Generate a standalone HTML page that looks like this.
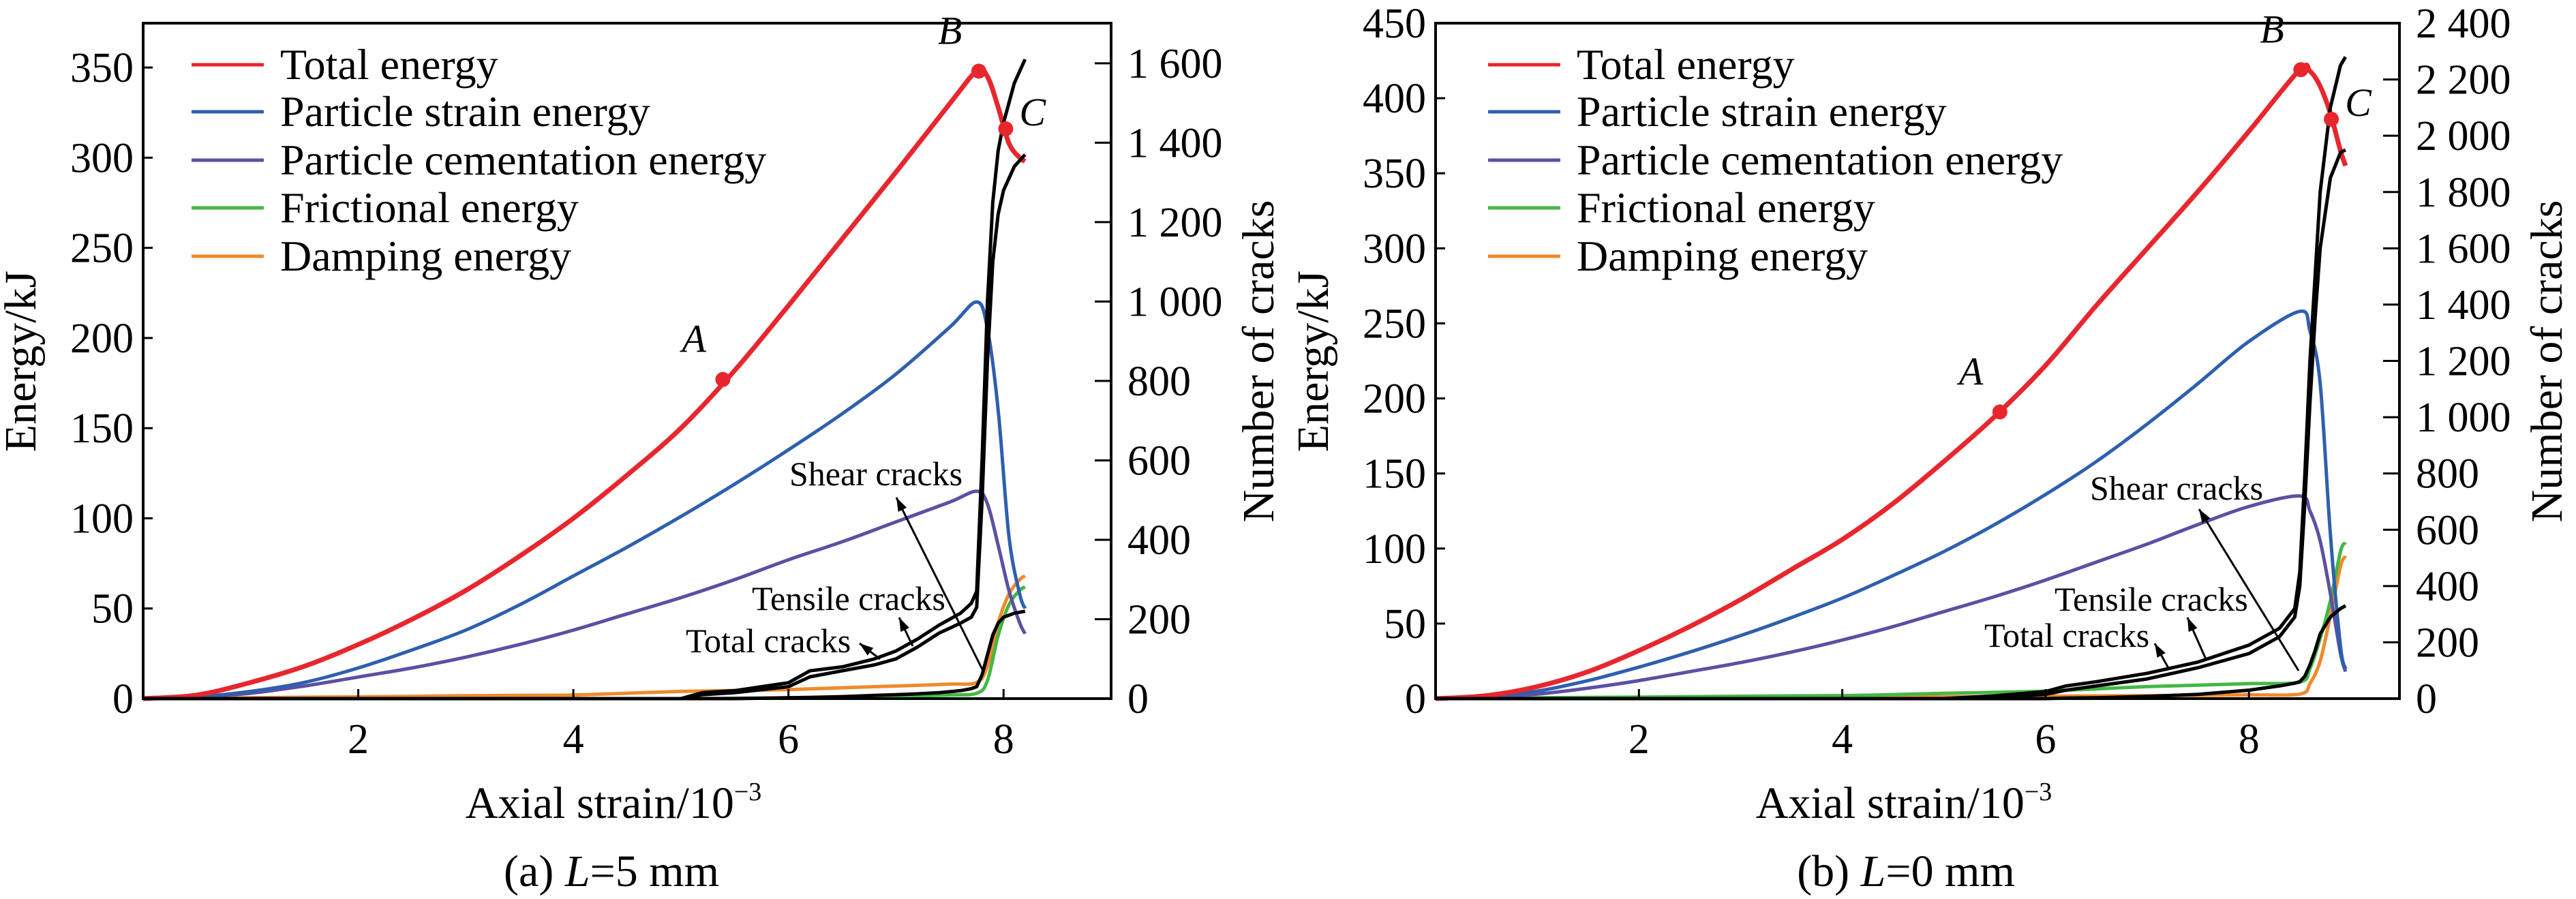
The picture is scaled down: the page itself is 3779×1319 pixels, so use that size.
<!DOCTYPE html>
<html><head><meta charset="utf-8"><style>
html,body{margin:0;padding:0;background:#fff;}
svg{display:block;}
svg text{font-family:"Liberation Serif","Times New Roman","DejaVu Serif",serif;}
</style></head><body>
<svg id="fig" xmlns="http://www.w3.org/2000/svg" width="3779" height="1319" viewBox="0 0 3779 1319"></svg>
<script>
// ---- Panel (a) data ----
const aEnergyX = [0,0.5,1,1.5,2,2.5,3,3.5,4,4.5,5,5.5,6,6.5,7,7.5,7.75,7.85,7.95,8.05,8.15,8.2];
const aTotal   = [0,2,9,18,30,44,60,79,100,124,150,182,218,255,292,330,348,345,328,308,300,298];
const aStrain  = [0,1,4,9,17,27,38,52,68,84,101,119,138,158,180,206,220,205,160,90,58,50];
const aCement  = [0,1,3,7,12,17,23,30,38,47,56,66,77,87,98,109,115,108,85,60,42,36];
const aFric    = [0,0,0,0,0,0,0,0,0,0,0,0.2,0.5,1,1.5,2,3,10,35,52,60,62];
const aDamp    = [0,0.2,0.5,0.8,1,1.3,1.6,1.8,2,3,4,4.5,5,6,7,8,9,18,42,58,66,68];
const aCrackX  = [0,5,5.2,5.5,6,6.2,6.5,6.8,7,7.2,7.4,7.6,7.7,7.75,7.8,7.85,7.9,7.95,8.0,8.1,8.2];
const aCrTotal = [0,0,15,20,40,70,80,100,120,150,185,215,240,270,600,1000,1250,1380,1450,1550,1610];
const aCrTens  = [0,0,10,15,30,55,70,85,100,130,165,190,205,230,500,850,1100,1220,1280,1340,1370];
const aCrShear = [0,0,0,0,2,3,5,8,10,12,15,20,25,30,60,110,160,190,205,215,220];
const aXTicks = [2,4,6,8];
const aYTicks = [0,50,100,150,200,250,300,350];
const aRTicks = [0,200,400,600,800,1000,1200,1400,1600];
const aRLabels = ["0","200","400","600","800","1 000","1 200","1 400","1 600"];
const aPoints = [[5.39,177,"A"],[7.77,348,"B"],[8.02,316,"C"]];
// ---- Panel (b) data ----
const bEnergyX = [0,0.5,1,1.5,2,2.5,3,3.5,4,4.5,5,5.5,6,6.5,7,7.5,8,8.5,8.6,8.7,8.8,8.9,8.95];
const bTotal   = [0,2,8,18,32,48,66,86,106,130,158,188,222,262,300,338,378,419,418,408,390,365,355];
const bStrain  = [0,1,5,12,21,31,42,54,67,82,98,116,136,158,183,210,238,258,245,210,110,35,20];
const bCement  = [0,1,3,7,12,18,24,31,39,48,58,68,79,91,103,116,128,135,125,105,70,30,18];
const bFric    = [0,0.3,0.6,0.8,1,1.3,1.6,1.8,2,2.7,3.5,4.2,5,6.5,8,9,10,11,20,40,65,98,104];
const bDamp    = [0,0,0,0,0,0.2,0.4,0.6,0.8,1,1.2,1.4,1.6,1.8,2,2.2,2.5,3,10,25,55,88,95];
const bCrackX  = [0,5,5.5,6,6.2,6.5,7,7.5,8,8.3,8.45,8.5,8.55,8.6,8.65,8.7,8.8,8.9,8.95];
const bCrTotal = [0,0,10,25,45,60,90,130,190,250,320,450,800,1200,1500,1800,2100,2250,2280];
const bCrTens  = [0,0,5,15,30,45,70,110,160,220,290,400,700,1050,1350,1600,1850,1940,1950];
const bCrShear = [0,0,0,0,2,3,8,15,30,45,55,60,80,120,170,230,290,320,330];
const bXTicks = [2,4,6,8];
const bYTicks = [0,50,100,150,200,250,300,350,400,450];
const bRTicks = [0,200,400,600,800,1000,1200,1400,1600,1800,2000,2200,2400];
const bRLabels = ["0","200","400","600","800","1 000","1 200","1 400","1 600","1 800","2 000","2 200","2 400"];
const bPoints = [[5.55,191,"A"],[8.51,419,"B"],[8.81,386,"C"]];

const NS="http://www.w3.org/2000/svg";
const svg=document.getElementById('fig');
function mk(tag,attrs,parent){const e=document.createElementNS(NS,tag);for(const k in attrs)e.setAttribute(k,attrs[k]);(parent||svg).appendChild(e);return e;}
function txt(s,attrs,parent){const e=mk('text',attrs,parent);e.textContent=s;return e;}

const COLORS={total:"#e8262e",strain:"#2f5fae",cement:"#5b50a3",fric:"#44b844",damp:"#f08a2c"};

function smoothPath(pts){
  let d='M'+pts[0][0].toFixed(1)+','+pts[0][1].toFixed(1);
  for(let i=0;i<pts.length-1;i++){
    const p0=pts[i-1]||pts[i],p1=pts[i],p2=pts[i+1],p3=pts[i+2]||p2;
    const c1x=p1[0]+(p2[0]-p0[0])/6,c1y=p1[1]+(p2[1]-p0[1])/6;
    const c2x=p2[0]-(p3[0]-p1[0])/6,c2y=p2[1]-(p3[1]-p1[1])/6;
    d+=` C${c1x.toFixed(1)},${c1y.toFixed(1)} ${c2x.toFixed(1)},${c2y.toFixed(1)} ${p2[0].toFixed(1)},${p2[1].toFixed(1)}`;
  }
  return d;
}

function panel(c){
  const g=mk('g',{});
  
  
  const X=v=>c.L+(v-c.xmin)/(c.xmax-c.xmin)*(c.R-c.L);
  const Y=v=>c.B-v/c.ymax*(c.B-c.T);
  const Y2=v=>c.B-v/c.y2max*(c.B-c.T);
  const line=(xs,ys,f,col,w,name,smooth)=>{
    const pts=xs.map((x,i)=>[X(x),f(ys[i])]);
    const d=smooth?smoothPath(pts):pts.map((p,i)=>(i?'L':'M')+p[0].toFixed(1)+','+p[1].toFixed(1)).join(' ');
    const p=mk('path',{d:d,fill:'none',stroke:col,'stroke-width':w,'stroke-linejoin':'round'},g);
    
    
  };
  line(c.ex,c.damp,Y,COLORS.damp,5,'damping-energy-line',true);
  line(c.ex,c.fric,Y,COLORS.fric,5,'frictional-energy-line',true);
  line(c.ex,c.cement,Y,COLORS.cement,5,'cementation-energy-line',true);
  line(c.ex,c.strain,Y,COLORS.strain,5,'strain-energy-line',true);
  line(c.ex,c.total,Y,COLORS.total,7,'total-energy-line',true);
  line(c.cx,c.crShear,Y2,'#000',5,'shear-cracks-line',false);
  line(c.cx,c.crTens,Y2,'#000',5,'tensile-cracks-line',false);
  line(c.cx,c.crTotal,Y2,'#000',5,'total-cracks-line',false);
  c.pts.forEach(p=>{
    const ci=mk('circle',{cx:X(p[0]),cy:Y(p[1]),r:11,fill:COLORS.total},g);
    
    
    const dx=p[2]==='C'?20:-60, dy=p[2]==='C'?-5:-40;
    const t=txt(p[2],{x:X(p[0])+dx,y:Y(p[1])+dy,'font-size':58,'font-style':'italic'},g);
    
    
  });
  const fr=mk('rect',{x:c.L,y:c.T,width:c.R-c.L,height:c.B-c.T,fill:'none',stroke:'#000','stroke-width':4},g);
  
  
  c.xt.forEach(v=>{
    mk('line',{x1:X(v),x2:X(v),y1:c.B,y2:c.B-14,stroke:'#000','stroke-width':3},g);
    const t=txt(String(v),{x:X(v),y:c.B+80,'font-size':62,'text-anchor':'middle'},g);
    
    
  });
  c.yt.forEach(v=>{
    mk('line',{x1:c.L,x2:c.L+14,y1:Y(v),y2:Y(v),stroke:'#000','stroke-width':3},g);
    const t=txt(String(v),{x:c.L-14,y:Y(v)+21,'font-size':62,'text-anchor':'end'},g);
    
    
  });
  c.rt.forEach((v,i)=>{
    mk('line',{x1:c.R,x2:c.R-24,y1:Y2(v),y2:Y2(v),stroke:'#000','stroke-width':3},g);
    const t=txt(c.rl[i],{x:c.R+24,y:Y2(v)+21,'font-size':62},g);
    
    
  });
  const xtit=mk('text',{x:(c.L+c.R)/2-20,y:1200,'font-size':66,'text-anchor':'middle'},g);
  xtit.innerHTML='Axial strain/10<tspan dy="-26" font-size="38">−3</tspan>';
  
  
  const yt=txt('Energy/kJ',{x:0,y:0,'font-size':66,'text-anchor':'middle',transform:`translate(${c.ytx},530) rotate(-90)`},g);
  
  
  const y2=txt('Number of cracks',{x:0,y:0,'font-size':66,'text-anchor':'middle',transform:`translate(${c.y2tx},530) rotate(-90)`},g);
  
  
  const cap=mk('text',{x:c.capx,y:1300,'font-size':66,'text-anchor':'middle'},g);
  cap.innerHTML=c.cap;
  
  
  const names=[['Total energy',COLORS.total],['Particle strain energy',COLORS.strain],['Particle cementation energy',COLORS.cement],['Frictional energy',COLORS.fric],['Damping energy',COLORS.damp]];
  const rows=[95,164,235,305,376];
  names.forEach((n,i)=>{
    mk('line',{x1:c.lgx,x2:c.lgx+106,y1:rows[i],y2:rows[i],stroke:n[1],'stroke-width':5},g);
    const t=txt(n[0],{x:c.lgx+130,y:rows[i]+21,'font-size':64},g);
    
    
  });
  c.ann.forEach(a=>{
    const t=txt(a.t,{x:a.x,y:a.y,'font-size':50},g);
    
    
    mk('line',{x1:a.tx,y1:a.ty,x2:a.hx,y2:a.hy,stroke:'#000','stroke-width':3},g);
    const ang=Math.atan2(a.hy-a.ty,a.hx-a.tx);
    const s=20,w=7;
    const bx=a.hx-s*Math.cos(ang),by=a.hy-s*Math.sin(ang);
    mk('polygon',{points:`${a.hx},${a.hy} ${bx-w*Math.sin(ang)},${by+w*Math.cos(ang)} ${bx+w*Math.sin(ang)},${by-w*Math.cos(ang)}`,fill:'#000'},g);
  });
}

panel({id:'a',L:210,R:1630,T:34,B:1025,xmin:0,xmax:9,ymax:374.6,y2max:1701,
  ex:aEnergyX,total:aTotal,strain:aStrain,cement:aCement,fric:aFric,damp:aDamp,
  cx:aCrackX,crTotal:aCrTotal,crTens:aCrTens,crShear:aCrShear,
  xt:aXTicks,yt:aYTicks,rt:aRTicks,rl:aRLabels,pts:aPoints,
  ytx:52,y2tx:1868,capx:897,cap:'(a) <tspan font-style="italic">L</tspan>=5 mm',lgx:281,
  ann:[{t:'Shear cracks',x:1158,y:712,hx:1315,hy:730,tx:1442,ty:984},
       {t:'Tensile cracks',x:1103,y:895,hx:1319,hy:906,tx:1339,ty:948},
       {t:'Total cracks',x:1006,y:957,hx:1261,hy:944,tx:1291,ty:967}]});
panel({id:'b',L:2106,R:3520,T:34,B:1025,xmin:0,xmax:9.48,ymax:450,y2max:2400,
  ex:bEnergyX,total:bTotal,strain:bStrain,cement:bCement,fric:bFric,damp:bDamp,
  cx:bCrackX,crTotal:bCrTotal,crTens:bCrTens,crShear:bCrShear,
  xt:bXTicks,yt:bYTicks,rt:bRTicks,rl:bRLabels,pts:bPoints,
  ytx:1948,y2tx:3758,capx:2796,cap:'(b) <tspan font-style="italic">L</tspan>=0 mm',lgx:2183,
  ann:[{t:'Shear cracks',x:3066,y:733,hx:3226,hy:747,tx:3372,ty:984},
       {t:'Tensile cracks',x:3014,y:896,hx:3209,hy:906,tx:3236,ty:967},
       {t:'Total cracks',x:2911,y:949,hx:3161,hy:944,tx:3181,ty:980}]});
</script>
</body></html>
